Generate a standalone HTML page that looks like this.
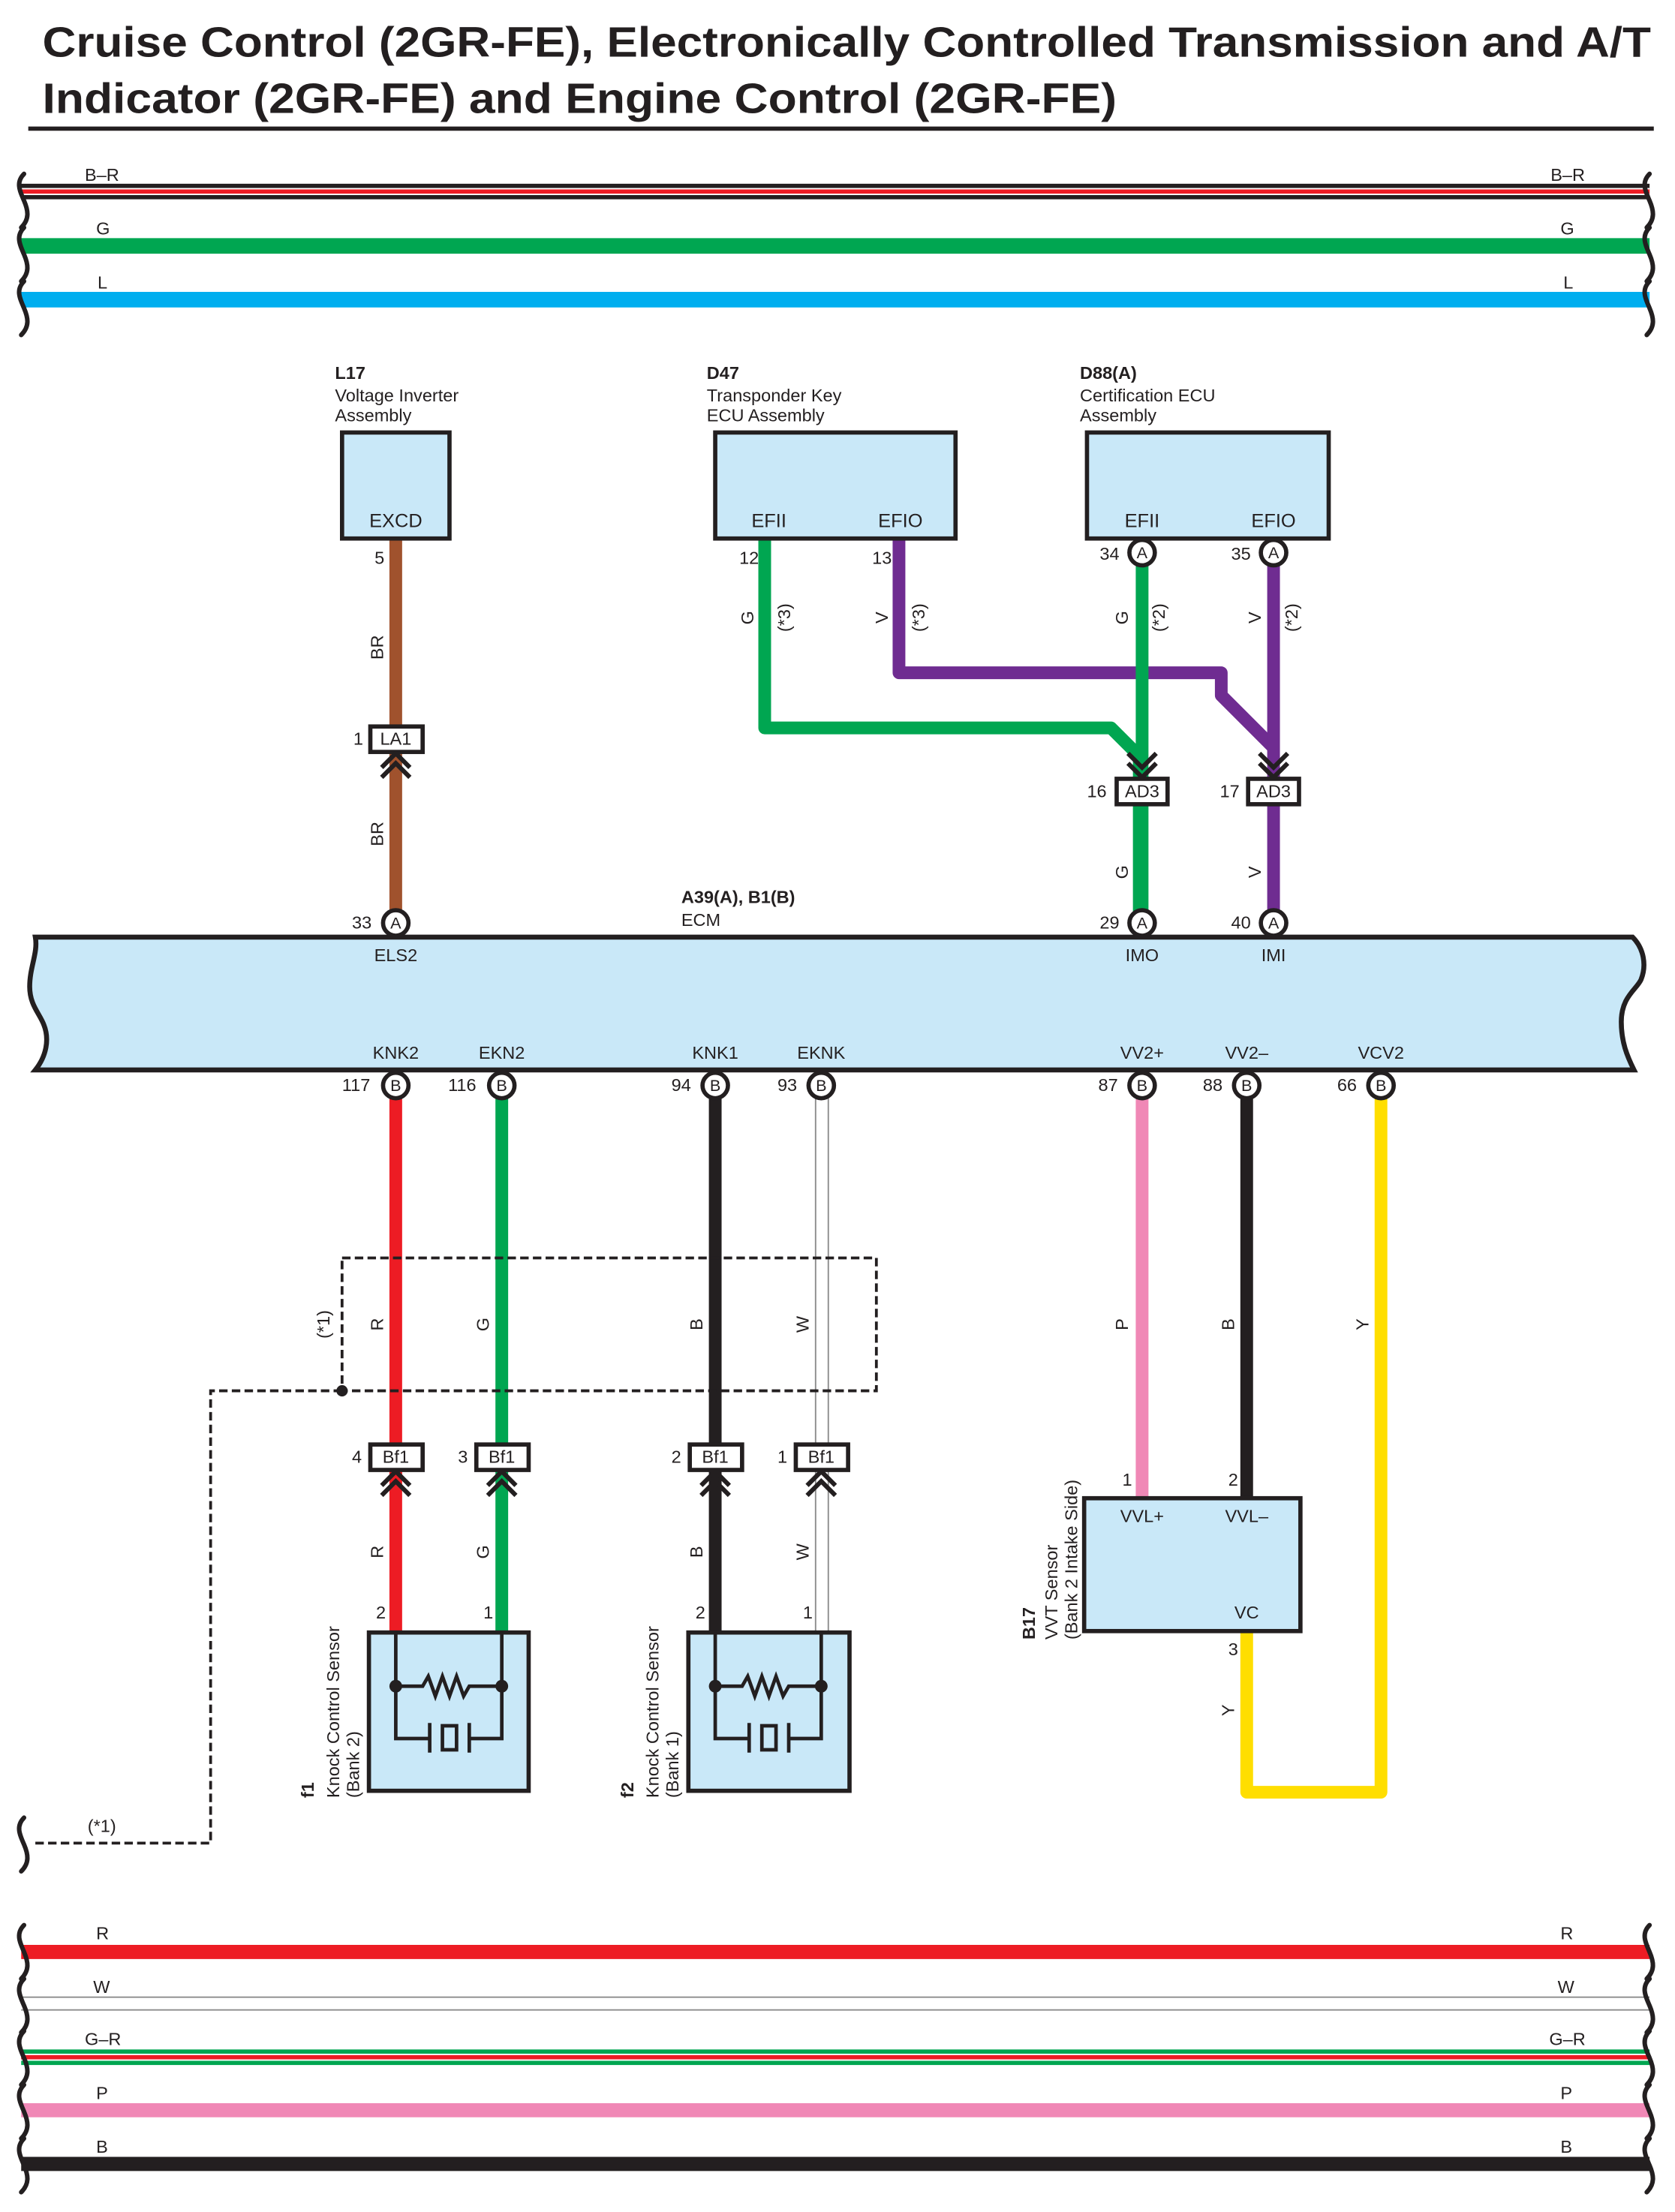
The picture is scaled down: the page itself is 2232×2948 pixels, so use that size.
<!DOCTYPE html>
<html><head><meta charset="utf-8"><style>
html,body{margin:0;padding:0;background:#fff}
svg{display:block}
text{font-family:"Liberation Sans",sans-serif;fill:#231f20}
</style></head><body>
<svg width="2232" height="2948" viewBox="0 0 1185 1565" preserveAspectRatio="none" xmlns="http://www.w3.org/2000/svg">
<defs>
<path id="chu" d="M-10,9 L0,-1 L10,9 M-10,16 L0,6 L10,16" fill="none" stroke="#231f20" stroke-width="3.2"/>
<path id="chd" d="M-10,-16 L0,-6 L10,-16 M-10,-9 L0,1 L10,-9" fill="none" stroke="#231f20" stroke-width="3.2"/>
<path id="wv" d="M0,0 c-6,6 -3,12 0,19 c3,7 4,13 -2,19" fill="none" stroke="#231f20" stroke-width="3.2" stroke-linecap="round"/>
</defs>
<text x="30" y="40" font-size="30" font-weight="bold" textLength="1138" lengthAdjust="spacingAndGlyphs">Cruise Control (2GR-FE), Electronically Controlled Transmission and A/T</text>
<text x="30" y="80" font-size="30" font-weight="bold" textLength="760" lengthAdjust="spacingAndGlyphs">Indicator (2GR-FE) and Engine Control (2GR-FE)</text>
<line x1="20" y1="91" x2="1170" y2="91" stroke="#231f20" stroke-width="3"/>

<!-- top bus -->
<g font-size="12.5">
<rect x="15" y="130" width="1152" height="11" fill="#231f20"/><rect x="15" y="133" width="1152" height="5" fill="#fff"/><rect x="15" y="134" width="1152" height="3" fill="#ed1c24"/>
<line x1="15" y1="174" x2="1167" y2="174" stroke="#00a651" stroke-width="11"/>
<line x1="15" y1="212" x2="1167" y2="212" stroke="#00aeef" stroke-width="11"/>
<text x="60" y="128">B–R</text><text x="1097" y="128">B–R</text>
<text x="68" y="166">G</text><text x="1104" y="166">G</text>
<text x="69" y="204">L</text><text x="1106" y="204">L</text>
</g>
<use href="#wv" x="17" y="123"/><use href="#wv" x="17" y="161"/><use href="#wv" x="17" y="199"/>
<use href="#wv" x="1167" y="123"/><use href="#wv" x="1167" y="161"/><use href="#wv" x="1167" y="199"/>

<!-- wires top -->
<g fill="none" stroke-width="9">
<line x1="280" y1="381" x2="280" y2="650" stroke="#a0522d"/>
<polyline points="541,381 541,515 786,515 806,535 806,650" stroke="#00a651" stroke-linejoin="round"/>
<polyline points="636,381 636,476 864,476 864,492 900,528" stroke="#6f2c91" stroke-linejoin="round"/>
<line x1="901" y1="391" x2="901" y2="650" stroke="#6f2c91"/>
<line x1="808" y1="391" x2="808" y2="650" stroke="#00a651"/>
</g>

<!-- component boxes top -->
<g stroke="#231f20" stroke-width="3" fill="#c9e8f8">
<rect x="242" y="306" width="76" height="75"/>
<rect x="506" y="306" width="170" height="75"/>
<rect x="769" y="306" width="171" height="75"/>
</g>
<g font-size="12.5">
<text x="237" y="268" font-weight="bold">L17</text><text x="237" y="284">Voltage Inverter</text><text x="237" y="298">Assembly</text>
<text x="500" y="268" font-weight="bold">D47</text><text x="500" y="284">Transponder Key</text><text x="500" y="298">ECU Assembly</text>
<text x="764" y="268" font-weight="bold">D88(A)</text><text x="764" y="284">Certification ECU</text><text x="764" y="298">Assembly</text>
<g text-anchor="middle" font-size="13.5">
<text x="280" y="373">EXCD</text><text x="544" y="373">EFII</text><text x="637" y="373">EFIO</text>
<text x="808" y="373">EFII</text><text x="901" y="373">EFIO</text>
</g>
<text x="265" y="399">5</text><text x="523" y="399">12</text><text x="617" y="399">13</text>
<text x="778" y="396">34</text><text x="871" y="396">35</text>
</g>

<!-- connectors top -->
<g stroke="#231f20" stroke-width="3" fill="#fff">
<rect x="262" y="514" width="37" height="18"/>
<rect x="790" y="551" width="36" height="18"/>
<rect x="883" y="551" width="36" height="18"/>
</g>
<use href="#chu" x="280" y="534"/>
<use href="#chd" x="808" y="549"/><use href="#chd" x="901" y="549"/>
<g font-size="12.5">
<text x="280" y="527" text-anchor="middle">LA1</text><text x="250" y="527">1</text>
<text x="808" y="564" text-anchor="middle">AD3</text><text x="769" y="564">16</text>
<text x="901" y="564" text-anchor="middle">AD3</text><text x="863" y="564">17</text>
</g>

<!-- rotated labels top -->
<g font-size="12.5" text-anchor="middle">
<text transform="translate(271,458) rotate(-90)">BR</text>
<text transform="translate(271,590) rotate(-90)">BR</text>
<text transform="translate(533,437) rotate(-90)">G</text>
<text transform="translate(559,437) rotate(-90)">(*3)</text>
<text transform="translate(628,437) rotate(-90)">V</text>
<text transform="translate(654,437) rotate(-90)">(*3)</text>
<text transform="translate(798,437) rotate(-90)">G</text>
<text transform="translate(824,437) rotate(-90)">(*2)</text>
<text transform="translate(892,437) rotate(-90)">V</text>
<text transform="translate(918,437) rotate(-90)">(*2)</text>
<text transform="translate(798,617) rotate(-90)">G</text>
<text transform="translate(892,617) rotate(-90)">V</text>
</g>

<!-- bottom wires -->
<g fill="none" stroke-width="9">
<line x1="280" y1="768" x2="280" y2="1155" stroke="#ed1c24"/>
<line x1="355" y1="768" x2="355" y2="1155" stroke="#00a651"/>
<line x1="506" y1="768" x2="506" y2="1155" stroke="#231f20"/>
<line x1="808" y1="768" x2="808" y2="1060" stroke="#f088b6"/>
<line x1="882" y1="768" x2="882" y2="1060" stroke="#231f20"/>
<polyline points="977,768 977,1268 882,1268 882,1154" stroke="#ffde00" stroke-linejoin="round"/>
</g>
<g stroke="#8c8c8c" stroke-width="1">
<line x1="577" y1="768" x2="577" y2="1155"/><line x1="586" y1="768" x2="586" y2="1155"/>
</g>

<!-- ECM -->
<path d="M25,663 L1155,663 c8,8 10,20 6,30 c-3,7 -14,12 -14,30 c0,14 4,24 9,34 L25,757 c8,-10 10,-22 6,-32 c-3,-8 -10,-14 -10,-27 c0,-14 6,-24 4,-35 z" fill="#c9e8f8" stroke="#231f20" stroke-width="3.5"/>
<text x="482" y="639" font-size="12.5" font-weight="bold">A39(A), B1(B)</text>
<text x="482" y="655" font-size="12.5">ECM</text>

<!-- pin circles -->
<g stroke="#231f20" stroke-width="3" fill="#fff">
<circle cx="280" cy="653" r="9"/><circle cx="808" cy="653" r="9"/><circle cx="901" cy="653" r="9"/>
<circle cx="808" cy="391" r="9"/><circle cx="901" cy="391" r="9"/>
<circle cx="280" cy="768" r="9"/><circle cx="355" cy="768" r="9"/><circle cx="506" cy="768" r="9"/><circle cx="581" cy="768" r="9"/>
<circle cx="808" cy="768" r="9"/><circle cx="882" cy="768" r="9"/><circle cx="977" cy="768" r="9"/>
</g>
<g font-size="11.5" text-anchor="middle">
<text x="280" y="657">A</text><text x="808" y="657">A</text><text x="901" y="657">A</text>
<text x="808" y="395">A</text><text x="901" y="395">A</text>
<text x="280" y="772">B</text><text x="355" y="772">B</text><text x="506" y="772">B</text><text x="581" y="772">B</text>
<text x="808" y="772">B</text><text x="882" y="772">B</text><text x="977" y="772">B</text>
</g>
<g font-size="12.5">
<text x="249" y="657">33</text><text x="778" y="657">29</text><text x="871" y="657">40</text>
<text x="242" y="772">117</text><text x="317" y="772">116</text><text x="475" y="772">94</text><text x="550" y="772">93</text>
<text x="777" y="772">87</text><text x="851" y="772">88</text><text x="946" y="772">66</text>
<g text-anchor="middle">
<text x="280" y="680">ELS2</text><text x="808" y="680">IMO</text><text x="901" y="680">IMI</text>
<text x="280" y="749">KNK2</text><text x="355" y="749">EKN2</text><text x="506" y="749">KNK1</text><text x="581" y="749">EKNK</text>
<text x="808" y="749">VV2+</text><text x="882" y="749">VV2–</text><text x="977" y="749">VCV2</text>
</g>
</g>

<!-- shield -->
<g fill="none" stroke="#231f20" stroke-width="2" stroke-dasharray="6,3">
<rect x="242" y="890" width="378" height="94"/>
<polyline points="242,984 149,984 149,1304 22,1304"/>
</g>
<circle cx="242" cy="984" r="4" fill="#231f20"/>
<use href="#wv" x="17" y="1286"/>
<text x="62" y="1296" font-size="12.5">(*1)</text>
<g font-size="12.5" text-anchor="middle">
<text transform="translate(233,937) rotate(-90)">(*1)</text>
<text transform="translate(271,937) rotate(-90)">R</text>
<text transform="translate(346,937) rotate(-90)">G</text>
<text transform="translate(497,937) rotate(-90)">B</text>
<text transform="translate(572,937) rotate(-90)">W</text>
<text transform="translate(798,937) rotate(-90)">P</text>
<text transform="translate(873,937) rotate(-90)">B</text>
<text transform="translate(968,937) rotate(-90)">Y</text>
<text transform="translate(271,1098) rotate(-90)">R</text>
<text transform="translate(346,1098) rotate(-90)">G</text>
<text transform="translate(497,1098) rotate(-90)">B</text>
<text transform="translate(572,1098) rotate(-90)">W</text>
<text transform="translate(873,1210) rotate(-90)">Y</text>
</g>

<!-- Bf1 connectors -->
<g stroke="#231f20" stroke-width="3" fill="#fff">
<rect x="262" y="1022" width="37" height="18"/><rect x="337" y="1022" width="37" height="18"/>
<rect x="488" y="1022" width="37" height="18"/><rect x="563" y="1022" width="37" height="18"/>
</g>
<use href="#chu" x="280" y="1042"/><use href="#chu" x="355" y="1042"/><use href="#chu" x="506" y="1042"/><use href="#chu" x="581" y="1042"/>
<g font-size="12.5">
<g text-anchor="middle"><text x="280" y="1035">Bf1</text><text x="355" y="1035">Bf1</text><text x="506" y="1035">Bf1</text><text x="581" y="1035">Bf1</text></g>
<text x="249" y="1035">4</text><text x="324" y="1035">3</text><text x="475" y="1035">2</text><text x="550" y="1035">1</text>
<text x="266" y="1145">2</text><text x="342" y="1145">1</text><text x="492" y="1145">2</text><text x="568" y="1145">1</text>
<text x="794" y="1051">1</text><text x="869" y="1051">2</text><text x="869" y="1171">3</text>
</g>

<!-- knock sensors -->
<g stroke="#231f20" stroke-width="3" fill="#c9e8f8">
<rect x="261" y="1155" width="113" height="112"/>
<rect x="487" y="1155" width="114" height="112"/>
<rect x="767" y="1060" width="153" height="94"/>
</g>
<g fill="none" stroke="#231f20" stroke-width="2.5">
<path d="M280,1155 V1230 H304 M304,1219 V1240 M313,1221 h10 v17 h-10 z M332,1219 V1240 M332,1230 H355 V1155 M280,1193 H299 l4,-7 5,14 5,-14 5,14 5,-14 5,14 4,-7 H355"/>
<path d="M506,1155 V1230 H530 M530,1219 V1240 M539,1221 h10 v17 h-10 z M558,1219 V1240 M558,1230 H581 V1155 M506,1193 H525 l4,-7 5,14 5,-14 5,14 5,-14 5,14 4,-7 H581"/>
</g>
<g fill="#231f20"><circle cx="280" cy="1193" r="4.5"/><circle cx="355" cy="1193" r="4.5"/><circle cx="506" cy="1193" r="4.5"/><circle cx="581" cy="1193" r="4.5"/></g>
<g font-size="12.5">
<text x="808" y="1077" text-anchor="middle">VVL+</text><text x="882" y="1077" text-anchor="middle">VVL–</text><text x="882" y="1145" text-anchor="middle">VC</text>
<text transform="translate(222,1272) rotate(-90)" font-weight="bold">f1</text>
<text transform="translate(240,1272) rotate(-90)">Knock Control Sensor</text>
<text transform="translate(254,1272) rotate(-90)">(Bank 2)</text>
<text transform="translate(448,1272) rotate(-90)" font-weight="bold">f2</text>
<text transform="translate(466,1272) rotate(-90)">Knock Control Sensor</text>
<text transform="translate(480,1272) rotate(-90)">(Bank 1)</text>
<text transform="translate(732,1160) rotate(-90)" font-weight="bold">B17</text>
<text transform="translate(748,1160) rotate(-90)">VVT Sensor</text>
<text transform="translate(762,1160) rotate(-90)">(Bank 2 Intake Side)</text>
</g>

<!-- bottom bus -->
<line x1="15" y1="1381" x2="1167" y2="1381" stroke="#ed1c24" stroke-width="10"/>
<line x1="15" y1="1413" x2="1167" y2="1413" stroke="#8c8c8c" stroke-width="1"/>
<line x1="15" y1="1422" x2="1167" y2="1422" stroke="#8c8c8c" stroke-width="1"/>
<rect x="15" y="1450" width="1152" height="11" fill="#00a651"/><rect x="15" y="1453" width="1152" height="5" fill="#fff"/><rect x="15" y="1454" width="1152" height="3" fill="#ed1c24"/>
<line x1="15" y1="1493" x2="1167" y2="1493" stroke="#f088b6" stroke-width="10"/>
<line x1="15" y1="1531" x2="1167" y2="1531" stroke="#231f20" stroke-width="10"/>
<g font-size="12.5">
<text x="68" y="1372">R</text><text x="1104" y="1372">R</text>
<text x="66" y="1410">W</text><text x="1102" y="1410">W</text>
<text x="60" y="1447">G–R</text><text x="1096" y="1447">G–R</text>
<text x="68" y="1485">P</text><text x="1104" y="1485">P</text>
<text x="68" y="1523">B</text><text x="1104" y="1523">B</text>
</g>
<use href="#wv" x="17" y="1362"/><use href="#wv" x="17" y="1400"/><use href="#wv" x="17" y="1437"/><use href="#wv" x="17" y="1475"/><use href="#wv" x="17" y="1513"/>
<use href="#wv" x="1167" y="1362"/><use href="#wv" x="1167" y="1400"/><use href="#wv" x="1167" y="1437"/><use href="#wv" x="1167" y="1475"/><use href="#wv" x="1167" y="1513"/>
</svg>
</body></html>
